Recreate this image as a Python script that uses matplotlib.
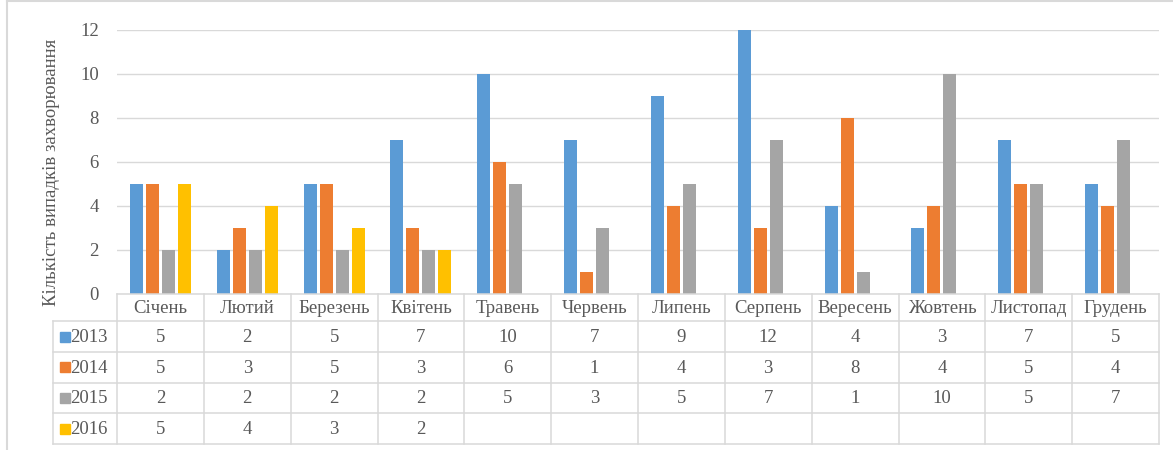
import numpy as np
import matplotlib
matplotlib.use("Agg")
import matplotlib.pyplot as plt
from matplotlib.patches import Rectangle
from matplotlib.lines import Line2D

months = ["Січень", "Лютий", "Березень", "Квітень", "Травень", "Червень",
          "Липень", "Серпень", "Вересень", "Жовтень", "Листопад", "Грудень"]
series_names = ["2013", "2014", "2015", "2016"]
v2013 = [5, 2, 5, 7, 10, 7, 9, 12, 4, 3, 7, 5]
v2014 = [5, 3, 5, 3, 6, 1, 4, 3, 8, 4, 5, 4]
v2015 = [2, 2, 2, 2, 5, 3, 5, 7, 1, 10, 5, 7]
v2016 = [5, 4, 3, 2, None, None, None, None, None, None, None, None]
y_ticks = [0, 2, 4, 6, 8, 10, 12]
y_label = "Кількість випадків захворювання"

colors = ["#5B9BD5", "#ED7D31", "#A5A5A5", "#FFC000"]
grid_c = "#D9D9D9"
text_c = "#595959"
FS = 13.5

plt.rcParams['font.family'] = ['Liberation Serif', 'DejaVu Serif']

W, H = 1173, 450
fig = plt.figure(figsize=(W / 100, H / 100), dpi=100)

# pixel layout
ax_l, ax_r, ax_t, ax_b = 117, 1159, 30, 293.5
tab_l, tab_b = 53, 444
row_edges = [293.5, 321, 352, 382.5, 413, 444]

ax = fig.add_axes([ax_l / W, 1 - ax_b / H, (ax_r - ax_l) / W, (ax_b - ax_t) / H])
ax.set_xlim(-0.5, 11.5)
ax.set_ylim(0, 12)
for s in ax.spines.values():
    s.set_visible(False)
ax.set_yticks(y_ticks)
ax.set_yticklabels([str(t) for t in y_ticks], fontsize=FS, color=text_c)
ax.tick_params(axis='y', length=0, pad=13)
ax.set_xticks([])
ax.yaxis.grid(True, color=grid_c, linewidth=1.0)
ax.set_axisbelow(True)

cw = (ax_r - ax_l) / 12.0
step = 16 / cw
bw = 13 / cw
x = np.arange(12)
all_vals = [v2013, v2014, v2015, v2016]
for k, (vals, c) in enumerate(zip(all_vals, colors)):
    arr = np.array([np.nan if v is None else v for v in vals], dtype=float)
    ax.bar(x + (k - 1.5) * step, arr, width=bw, color=c, zorder=3)

fig.text(52 / W, 1 - 172 / H, y_label, rotation=90, ha='center', va='center',
         fontsize=FS, color=text_c)

# data table
tax = fig.add_axes([tab_l / W, 1 - tab_b / H, (ax_r - tab_l) / W, (tab_b - row_edges[0]) / H])
left_x = -0.5 - (ax_l - tab_l) / cw
tax.set_xlim(left_x, 11.5)
tax.set_ylim(row_edges[-1], row_edges[0])
tax.axis('off')
lw = 1.1
# horizontal lines
tax.plot([-0.5, 11.5], [row_edges[0]] * 2, color=grid_c, lw=lw, clip_on=False)
for ye in row_edges[1:]:
    tax.plot([left_x, 11.5], [ye] * 2, color=grid_c, lw=lw, clip_on=False)
# vertical lines
tax.plot([left_x] * 2, [row_edges[1], row_edges[-1]], color=grid_c, lw=lw, clip_on=False)
for i in range(13):
    tax.plot([i - 0.5] * 2, [row_edges[0], row_edges[-1]], color=grid_c, lw=lw, clip_on=False)

# header
hc = (row_edges[0] + row_edges[1]) / 2
for i, m in enumerate(months):
    tax.text(i, hc + 1, m, ha='center', va='center', fontsize=FS, color=text_c)
# rows
for k, (name, vals, c) in enumerate(zip(series_names, all_vals, colors)):
    yc = (row_edges[k + 1] + row_edges[k + 2]) / 2
    mx0 = left_x + 7 / cw
    msz = 10 / cw
    tax.add_patch(Rectangle((mx0, yc - 5), msz, 10, color=c, clip_on=False))
    tax.text(mx0 + msz + 0.5 / cw, yc + 1, name, ha='left', va='center', fontsize=FS, color=text_c)
    for i, v in enumerate(vals):
        if v is not None:
            tax.text(i, yc + 1, str(v), ha='center', va='center', fontsize=FS, color=text_c)

# outer chart border (top and left visible)
fig.add_artist(Line2D([7 / W, 1], [1 - 1 / H, 1 - 1 / H], color=grid_c, lw=1.5, transform=fig.transFigure))
fig.add_artist(Line2D([7 / W, 7 / W], [0, 1 - 1 / H], color=grid_c, lw=1.5, transform=fig.transFigure))

fig.savefig("out.png", dpi=100, facecolor='white')
